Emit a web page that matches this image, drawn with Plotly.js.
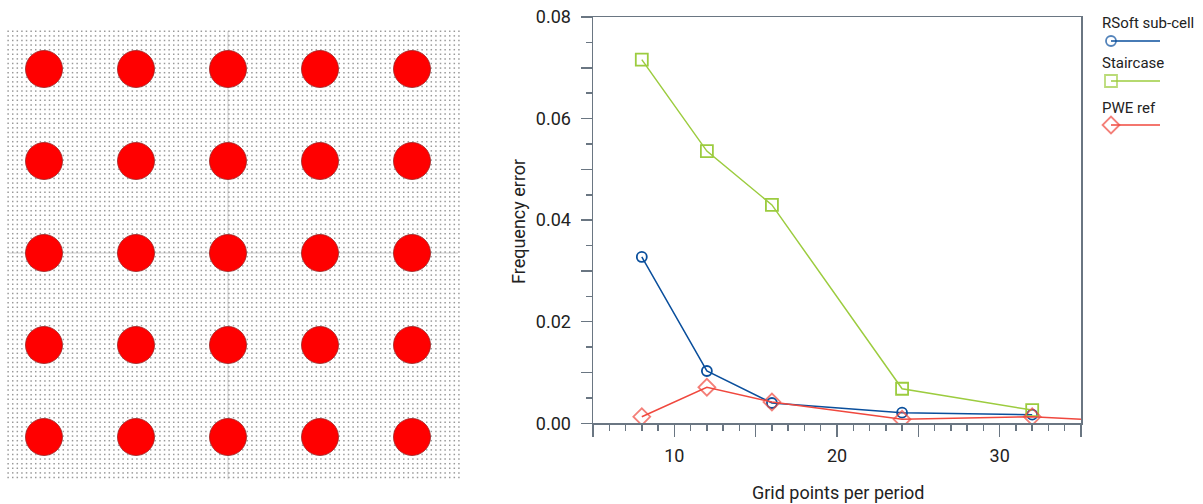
<!DOCTYPE html>
<html>
<head>
<meta charset="utf-8">
<script src="https://cdn.plot.ly/plotly-3.0.1.min.js"></script>
<style>html,body{margin:0;padding:0;background:#fff}#chart{width:1203px;height:504px}</style>
</head>
<body>
<div id="chart"></div>
<script>
// Frequency-error data
const gridPoints = [8, 12, 16, 24, 32];
const rsoftError = [0.03275, 0.0103, 0.0040, 0.0021, 0.0017];
const staircaseError = [0.0716, 0.0536, 0.0430, 0.0068, 0.0026];
const pweGrid = [8, 12, 16, 24, 32, 35];
const pweError = [0.0013, 0.0071, 0.0042, 0.0008, 0.0013, 0.0008];
const pweMarkerSizes = [13, 13, 13, 13, 13, 0];

// Axis ticks
const xTickVals = [5, 10, 15, 20, 25, 30, 35];
const xTickText = ['', '10', '', '20', '', '30', ''];
const yTickVals = [0, 0.01, 0.02, 0.03, 0.04, 0.05, 0.06, 0.07, 0.08];
const yTickText = ['0.00', '', '0.02', '', '0.04', '', '0.06', '', '0.08'];
const xMinorVals = [6, 7, 8, 9, 11, 12, 13, 14, 16, 17, 18, 19, 21, 22, 23, 24, 26, 27, 28, 29, 31, 32, 33, 34];
const yMinorVals = [0.005, 0.015, 0.025, 0.035, 0.045, 0.055, 0.065, 0.075];

// Photonic-crystal lattice (rods per period, mesh points per period)
const rodCols = [0, 1, 2, 3, 4];
const rodRows = [0, 1, 2, 3, 4];
const meshPerPeriod = 20;
const meshCols = 99, meshRows = 98;
const meshStartX = -0.39, meshStartY = -0.41;
const crossX = [2, 2], crossYSpan = [-0.41, 4.46];
const crossY = [2, 2], crossXSpan = [-0.39, 4.5];

// Legend
const legendNames = ['RSoft sub-cell', 'Staircase', 'PWE ref'];
const legendTextY = [23, 63, 108];
const legendLineY = [41, 81, 125];
const legendLineX = [1111, 1160];
const legendTextX = 1101;

const BLUE = '#0a4f9c', GREEN = '#9ccc3f', RED = '#f0483e', AXIS = '#6a7682', TEXT = '#222';
const FONT = 'Roboto, sans-serif';

const W = 1203, H = 504;

const rodX = [], rodY = [];
rodRows.forEach(r => rodCols.forEach(c => { rodX.push(c); rodY.push(r); }));
const meshX = [], meshY = [];
for (let j = 0; j < meshRows; j++) for (let i = 0; i < meshCols; i++) {
  meshX.push(meshStartX + i / meshPerPeriod);
  meshY.push(meshStartY + j / meshPerPeriod);
}

const traces = [
  {x: meshX, y: meshY, xaxis: 'x2', yaxis: 'y2', mode: 'markers', hoverinfo: 'skip',
   marker: {symbol: 'square', size: 1.5, color: '#999999', line: {width: 0}}},
  {x: crossX, y: crossYSpan, xaxis: 'x2', yaxis: 'y2', mode: 'lines', hoverinfo: 'skip', line: {color: 'rgba(120,120,120,0.25)', width: 1.5}},
  {x: crossXSpan, y: crossY, xaxis: 'x2', yaxis: 'y2', mode: 'lines', hoverinfo: 'skip', line: {color: 'rgba(120,120,120,0.25)', width: 1.5}},
  {x: rodX, y: rodY, xaxis: 'x2', yaxis: 'y2', mode: 'markers', hoverinfo: 'skip',
   marker: {symbol: 'circle', size: 37, color: '#ff0000', line: {width: 0.8, color: '#a02020'}}},

  {x: gridPoints, y: rsoftError, name: legendNames[0], mode: 'lines+markers', line: {color: BLUE, width: 1.5},
   marker: {symbol: 'circle-open', size: 10, color: BLUE, line: {width: 1.8, color: BLUE}}},
  {x: gridPoints, y: staircaseError, name: legendNames[1], mode: 'lines+markers', line: {color: GREEN, width: 1.5},
   marker: {symbol: 'square-open', size: 12, color: GREEN, line: {width: 1.8, color: GREEN}}},
  {x: pweGrid, y: pweError, name: legendNames[2], mode: 'lines+markers', line: {color: RED, width: 1.5},
   marker: {symbol: 'diamond-open', size: pweMarkerSizes, color: RED, line: {width: 1.8, color: RED}}}
];

const legendSymbols = ['circle-open', 'square-open', 'diamond-open'];
const legendSizes = [10, 12, 13];
const legendColors = [BLUE, GREEN, RED];
legendNames.forEach((n, i) => {
  traces.push({x: legendLineX, y: [legendLineY[i], legendLineY[i]], xaxis: 'x3', yaxis: 'y3', mode: 'lines+markers',
    hoverinfo: 'skip', line: {color: legendColors[i], width: 1.5},
    marker: {symbol: legendSymbols[i], size: [legendSizes[i], 0], color: legendColors[i], line: {width: 1.8, color: legendColors[i]}}});
});

const layout = {
  width: W, height: H,
  margin: {l: 0, r: 0, t: 0, b: 0},
  paper_bgcolor: '#fff', plot_bgcolor: 'rgba(0,0,0,0)',
  showlegend: false,
  font: {family: FONT, color: TEXT},
  xaxis: {
    domain: [593 / W, 1081 / W], anchor: 'y', range: [5, 35],
    tickmode: 'array', tickvals: xTickVals, ticktext: xTickText,
    ticks: 'outside', ticklen: 12, tickwidth: 1.5, tickcolor: AXIS,
    minor: {tickmode: 'array', tickvals: xMinorVals, ticks: 'outside', ticklen: 6, tickwidth: 1.5, tickcolor: AXIS},
    showline: true, linecolor: AXIS, linewidth: 1.5, mirror: true, showgrid: false, zeroline: false,
    tickfont: {size: 18, family: FONT, color: TEXT}, ticklabelstandoff: 4
  },
  yaxis: {
    domain: [(H - 423.3) / H, (H - 17) / H], anchor: 'x', range: [0, 0.08],
    tickmode: 'array', tickvals: yTickVals, ticktext: yTickText,
    ticks: 'outside', ticklen: 11, tickwidth: 1.5, tickcolor: AXIS,
    minor: {tickmode: 'array', tickvals: yMinorVals, ticks: 'outside', ticklen: 6, tickwidth: 1.5, tickcolor: AXIS},
    showline: true, linecolor: AXIS, linewidth: 1.5, mirror: true, showgrid: false, zeroline: false,
    tickfont: {size: 18, family: FONT, color: TEXT}, ticklabelstandoff: 6
  },
  xaxis2: {domain: [0, 480 / W], anchor: 'y2', range: [-44 / 92, 436 / 92], visible: false},
  yaxis2: {domain: [0, 1], anchor: 'x2', range: [(504 - 69) / 92, -69 / 92], visible: false},
  xaxis3: {domain: [0, 1], anchor: 'y3', range: [0, W], visible: false},
  yaxis3: {domain: [0, 1], anchor: 'x3', range: [H, 0], visible: false},
  annotations: [
    {text: 'Grid points per period', xref: 'paper', yref: 'paper', x: 838 / W, y: (H - 492) / H, xanchor: 'center', yanchor: 'middle', showarrow: false, font: {size: 18, family: FONT, color: TEXT}},
    {text: 'Frequency error', xref: 'paper', yref: 'paper', x: 518 / W, y: (H - 222) / H, xanchor: 'center', yanchor: 'middle', textangle: -90, showarrow: false, font: {size: 18, family: FONT, color: TEXT}}
  ].concat(legendNames.map((n, i) => ({
    text: n, xref: 'paper', yref: 'paper', x: legendTextX / W, y: (H - legendTextY[i]) / H, xanchor: 'left', yanchor: 'middle', xshift: -1, showarrow: false, font: {size: 15, family: FONT, color: TEXT}
  })))
};

Plotly.newPlot('chart', traces, layout, {displayModeBar: false, staticPlot: true});
</script>
</body>
</html>
